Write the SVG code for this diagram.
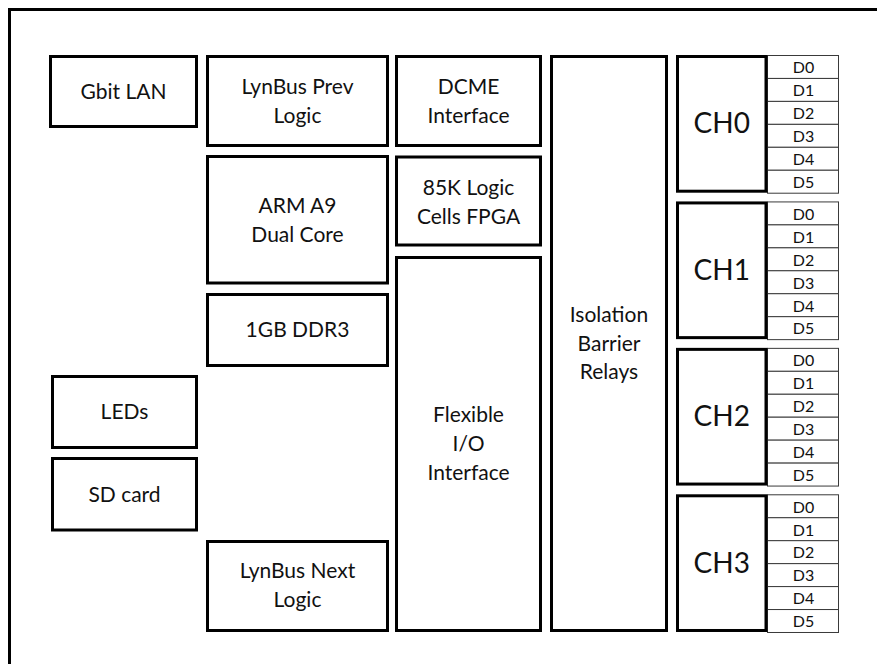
<svg xmlns="http://www.w3.org/2000/svg" width="877" height="664" viewBox="0 0 877 664">
<style>
.box{fill:#fff;stroke:#000;stroke-width:3}
.cell{fill:#fff;stroke:#3a3a3a;stroke-width:1}
.t{font-family:Lato,"Liberation Sans",sans-serif;font-size:21px;fill:#111;text-anchor:middle}
.ch{font-family:Lato,"Liberation Sans",sans-serif;font-size:28px;fill:#111;text-anchor:middle}
.d{font-family:Lato,"Liberation Sans",sans-serif;font-size:16px;fill:#111;text-anchor:middle}
</style>
<rect width="877" height="664" fill="#fff"/>
<rect x="9.5" y="9.5" width="900" height="700" fill="none" stroke="#000" stroke-width="3"/>
<g id="connectors"></g>
<g id="gbit-lan"><rect class="box" x="50.5" y="56.5" width="146" height="70"/><text class="t" x="123.5" y="99.3">Gbit LAN</text></g>
<g id="lynbus-prev"><rect class="box" x="207.5" y="56.5" width="180" height="89"/><text class="t" x="297.5" y="94">LynBus Prev</text><text class="t" x="297.5" y="123">Logic</text></g>
<g id="arm"><rect class="box" x="207.5" y="156.5" width="180" height="126.5"/><text class="t" x="297.5" y="212.7">ARM A9</text><text class="t" x="297.5" y="241.7">Dual Core</text></g>
<g id="ddr3"><rect class="box" x="207.5" y="294.5" width="180" height="71"/><text class="t" x="297.5" y="336.7">1GB DDR3</text></g>
<g id="leds"><rect class="box" x="52.5" y="376.5" width="144" height="71"/><text class="t" x="124.5" y="419.3">LEDs</text></g>
<g id="sd-card"><rect class="box" x="52.5" y="458.5" width="144" height="71.5"/><text class="t" x="124.5" y="501.7">SD card</text></g>
<g id="lynbus-next"><rect class="box" x="207.5" y="541.5" width="180" height="89"/><text class="t" x="297.5" y="578.3">LynBus Next</text><text class="t" x="297.5" y="607.3">Logic</text></g>
<g id="dcme"><rect class="box" x="396.5" y="56.5" width="144" height="89"/><text class="t" x="468.5" y="94">DCME</text><text class="t" x="468.5" y="122.7">Interface</text></g>
<g id="fpga"><rect class="box" x="396.5" y="157" width="144" height="88"/><text class="t" x="468.5" y="195">85K Logic</text><text class="t" x="468.5" y="224">Cells FPGA</text></g>
<g id="flexible-io"><rect class="box" x="396.5" y="257.5" width="144" height="373"/><text class="t" x="468.5" y="421.7">Flexible</text><text class="t" x="468.5" y="451.2">I/O</text><text class="t" x="468.5" y="480">Interface</text></g>
<g id="isolation"><rect class="box" x="551.5" y="56.5" width="115" height="574"/><text class="t" x="609" y="321.7">Isolation</text><text class="t" x="609" y="351">Barrier</text><text class="t" x="609" y="379.3">Relays</text></g>
<g id="ch0" transform="translate(0,55)">
<rect class="cell" x="767.5" y="0.5" width="71" height="22.95"/><rect class="cell" x="767.5" y="23.45" width="71" height="22.95"/><rect class="cell" x="767.5" y="46.4" width="71" height="22.95"/><rect class="cell" x="767.5" y="69.35" width="71" height="22.95"/><rect class="cell" x="767.5" y="92.3" width="71" height="22.95"/><rect class="cell" x="767.5" y="115.25" width="71" height="22.95"/>
<text class="d" x="803.5" y="18.3">D0</text><text class="d" x="803.5" y="41.25">D1</text><text class="d" x="803.5" y="64.2">D2</text><text class="d" x="803.5" y="87.15">D3</text><text class="d" x="803.5" y="110.1">D4</text><text class="d" x="803.5" y="133.05">D5</text>
<rect class="box" x="677.5" y="1.5" width="88.5" height="134.7"/><text class="ch" x="721.75" y="78.3">CH0</text>
</g>
<g id="ch1" transform="translate(0,201.43)">
<rect class="cell" x="767.5" y="0.5" width="71" height="22.95"/><rect class="cell" x="767.5" y="23.45" width="71" height="22.95"/><rect class="cell" x="767.5" y="46.4" width="71" height="22.95"/><rect class="cell" x="767.5" y="69.35" width="71" height="22.95"/><rect class="cell" x="767.5" y="92.3" width="71" height="22.95"/><rect class="cell" x="767.5" y="115.25" width="71" height="22.95"/>
<text class="d" x="803.5" y="18.3">D0</text><text class="d" x="803.5" y="41.25">D1</text><text class="d" x="803.5" y="64.2">D2</text><text class="d" x="803.5" y="87.15">D3</text><text class="d" x="803.5" y="110.1">D4</text><text class="d" x="803.5" y="133.05">D5</text>
<rect class="box" x="677.5" y="1.5" width="88.5" height="134.7"/><text class="ch" x="721.75" y="78.3">CH1</text>
</g>
<g id="ch2" transform="translate(0,347.86)">
<rect class="cell" x="767.5" y="0.5" width="71" height="22.95"/><rect class="cell" x="767.5" y="23.45" width="71" height="22.95"/><rect class="cell" x="767.5" y="46.4" width="71" height="22.95"/><rect class="cell" x="767.5" y="69.35" width="71" height="22.95"/><rect class="cell" x="767.5" y="92.3" width="71" height="22.95"/><rect class="cell" x="767.5" y="115.25" width="71" height="22.95"/>
<text class="d" x="803.5" y="18.3">D0</text><text class="d" x="803.5" y="41.25">D1</text><text class="d" x="803.5" y="64.2">D2</text><text class="d" x="803.5" y="87.15">D3</text><text class="d" x="803.5" y="110.1">D4</text><text class="d" x="803.5" y="133.05">D5</text>
<rect class="box" x="677.5" y="1.5" width="88.5" height="134.7"/><text class="ch" x="721.75" y="78.3">CH2</text>
</g>
<g id="ch3" transform="translate(0,494.29)">
<rect class="cell" x="767.5" y="0.5" width="71" height="22.95"/><rect class="cell" x="767.5" y="23.45" width="71" height="22.95"/><rect class="cell" x="767.5" y="46.4" width="71" height="22.95"/><rect class="cell" x="767.5" y="69.35" width="71" height="22.95"/><rect class="cell" x="767.5" y="92.3" width="71" height="22.95"/><rect class="cell" x="767.5" y="115.25" width="71" height="22.95"/>
<text class="d" x="803.5" y="18.3">D0</text><text class="d" x="803.5" y="41.25">D1</text><text class="d" x="803.5" y="64.2">D2</text><text class="d" x="803.5" y="87.15">D3</text><text class="d" x="803.5" y="110.1">D4</text><text class="d" x="803.5" y="133.05">D5</text>
<rect class="box" x="677.5" y="1.5" width="88.5" height="134.7"/><text class="ch" x="721.75" y="78.3">CH3</text>
</g>
</svg>
